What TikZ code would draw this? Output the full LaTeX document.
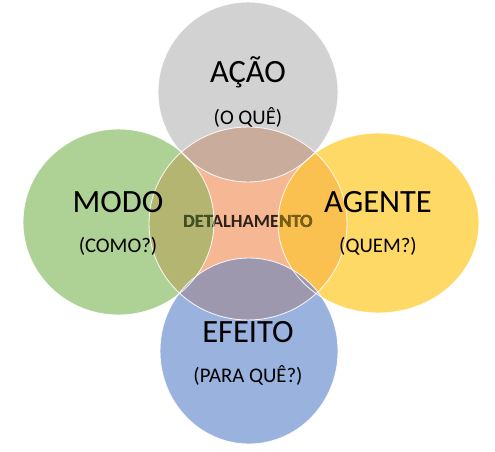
\documentclass[tikz,border=0pt]{standalone}
\usepackage{fontspec}
\setmainfont{Carlito}
\definecolor{cgray}{HTML}{D3D2D2}
\definecolor{cgreen}{HTML}{AED195}
\definecolor{cyellow}{HTML}{FFD966}
\definecolor{cblue}{HTML}{99B2DE}
\definecolor{corange}{HTML}{F5B794}
\definecolor{ovgray}{HTML}{CAAC9C}
\definecolor{ovgreen}{HTML}{B4B570}
\definecolor{ovyellow}{HTML}{FAC050}
\definecolor{ovblue}{HTML}{9E98AF}
\definecolor{txtdark}{HTML}{2D2118}
\definecolor{txtgreen}{HTML}{3F5220}
\definecolor{txtyellow}{HTML}{785F14}
\begin{document}
\begin{tikzpicture}[x=1pt,y=-1pt,
  big/.style={anchor=base, font=\fontsize{32.5}{36}\selectfont, text=black},
  small/.style={anchor=base, font=\fontsize{20.8}{24}\selectfont, text=black},
  det/.style={anchor=base, font=\fontsize{18.6}{22}\selectfont\bfseries},
  ring/.style={draw=white, line width=0.9pt, draw opacity=0.85}]
\useasboundingbox (0,0) rectangle (495,452);
% outer shapes
\def\pgray{(248,92) ellipse[x radius=90pt, y radius=90pt]}
\def\pgreen{(118.5,222) ellipse[x radius=95.5pt, y radius=93pt]}
\def\pyellow{(378.5,223) ellipse[x radius=100.5pt, y radius=90pt]}
\def\pblue{(249,351) ellipse[x radius=89pt, y radius=93pt]}
\def\porange{(248,223.5) ellipse[x radius=99pt, y radius=96.5pt]}
\fill[cgray] \pgray;
\fill[cgreen] \pgreen;
\fill[cyellow] \pyellow;
\fill[cblue] \pblue;
\fill[corange] \porange;
\begin{scope}
  \clip \porange;
  \fill[ovgray] \pgray;
  \fill[ovgreen] \pgreen;
  \fill[ovyellow] \pyellow;
  \fill[ovblue] \pblue;
\end{scope}
% centre text
\node[det, text=txtdark] (det) at (248,227) {DETALHAMENTO};
\begin{scope}
  \clip \pgreen;
  \node[det, text=txtgreen] (detg) at (248,227) {DETALHAMENTO};
\end{scope}
\begin{scope}
  \clip \pyellow;
  \node[det, text=txtyellow] (dety) at (248,227) {DETALHAMENTO};
\end{scope}
% outlines
\draw[ring] \porange;
\draw[ring] \pgray;
\draw[ring] \pgreen;
\draw[ring] \pyellow;
\draw[ring] \pblue;
% labels
\node[big] (acao) at (248,82) {AÇÃO};
\node[small] (oque) at (248,124) {(O QUÊ)};
\node[big] (modo) at (118,212) {MODO};
\node[small] (como) at (118,252) {(COMO?)};
\node[big] (agente) at (378,212) {AGENTE};
\node[small] (quem) at (378,252) {(QUEM?)};
\node[big] (efeito) at (248,342) {EFEITO};
\node[small] (paraque) at (248,382) {(PARA QUÊ?)};
\end{tikzpicture}
\end{document}
